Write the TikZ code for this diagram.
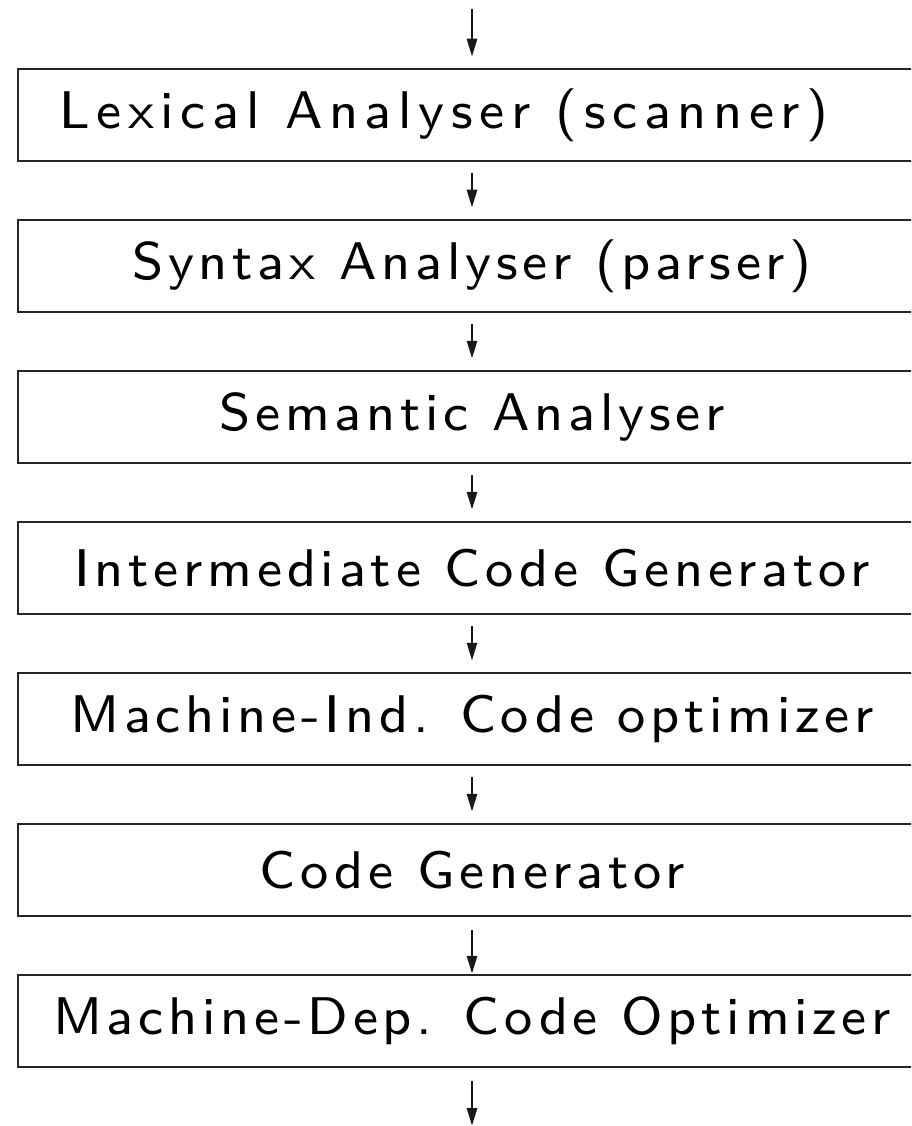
\documentclass[tikz,border=0pt]{standalone}
\usepackage{fontspec}
\newfontfamily\stagefont{lmsans8-regular.otf}[LetterSpace=9]
\newfontfamily\stagewidefont{lmsans8-regular.otf}[LetterSpace=12.5]
\usetikzlibrary{arrows.meta}
\begin{document}
\begin{tikzpicture}[x=1pt,y=-1pt,
  stage/.style={draw=black!85, line width=2.5pt, minimum width=908pt, minimum height=92pt,
    inner sep=0pt, font=\stagefont\fontsize{53}{60}\selectfont},
  flow/.style={draw=black!90, line width=2.8pt, -{Triangle[length=18pt,width=10pt]}}]
  \useasboundingbox (0,0) rectangle (911,1126);
  \clip (0,0) rectangle (911,1126);
  % pipeline stages, top to bottom
  \node[stage, font=\stagewidefont\fontsize{53}{60}\selectfont] (lex) at (472,115)
    {\hspace*{-56pt}Lexical Analyser (scanner)};
  \node[stage] (syn) at (472,266) {Syntax Analyser (parser)};
  \node[stage] (sem) at (472,417) {Semantic Analyser};
  \node[stage] (icg) at (472,568) {Intermediate Code Generator};
  \node[stage] (mio) at (472,719) {Machine-Ind. Code optimizer};
  \node[stage] (cg)  at (472,870) {Code Generator};
  \node[stage] (mdo) at (472,1021) {Machine-Dep. Code Optimizer};
  \coordinate (in) at (472,9);
  \coordinate (out) at (472,1126);
  % flow between stages (yshift is in page direction: positive = up)
  \draw[flow] (in) -- ([yshift=11pt]lex.north);
  \draw[flow] ([yshift=-11pt]lex.south) -- ([yshift=11pt]syn.north);
  \draw[flow] ([yshift=-11pt]syn.south) -- ([yshift=11pt]sem.north);
  \draw[flow] ([yshift=-11pt]sem.south) -- ([yshift=11pt]icg.north);
  \draw[flow] ([yshift=-11pt]icg.south) -- ([yshift=11pt]mio.north);
  \draw[flow] ([yshift=-11pt]mio.south) -- ([yshift=11pt]cg.north);
  \draw[flow] ([yshift=-13pt]cg.south) -- (mdo.north);
  \draw[flow] ([yshift=-13pt]mdo.south) -- (out);
\end{tikzpicture}
\end{document}
